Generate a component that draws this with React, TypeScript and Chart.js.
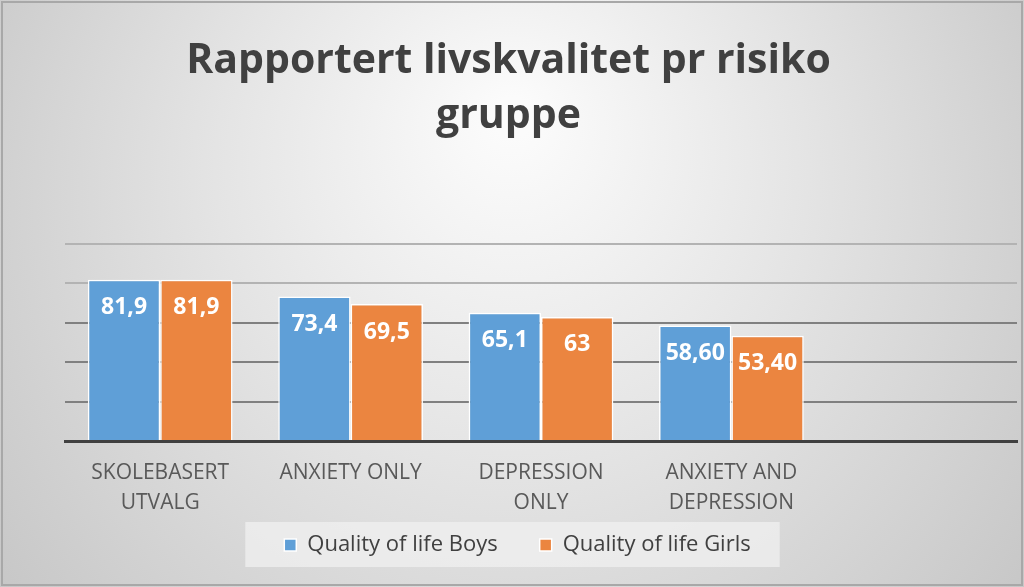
import React, { useEffect, useRef } from "react";
import { Chart, registerables } from "chart.js";

Chart.register(...registerables);

const categories: (string | string[])[] = [
  ["SKOLEBASERT", "UTVALG"],
  "ANXIETY ONLY",
  ["DEPRESSION", "ONLY"],
  ["ANXIETY AND", "DEPRESSION"],
  "",
];
const boysValues: (number | null)[] = [81.9, 73.4, 65.1, 58.6, null];
const girlsValues: (number | null)[] = [81.9, 69.5, 63, 53.4, null];
const boysLabels: string[] = ["81,9", "73,4", "65,1", "58,60", ""];
const girlsLabels: string[] = ["81,9", "69,5", "63", "53,40", ""];
const seriesNames: string[] = ["Quality of life Boys", "Quality of life Girls"];
const titleLines: string[] = ["Rapportert livskvalitet pr risiko", "gruppe"];

const FONT = "'Open Sans', 'Noto Sans', sans-serif";
const LEGEND_PAD = 42;
const LEGEND_SHIFT_Y = 21;
const LEGEND_SHIFT_X = 9;

const legendShiftPlugin = {
  id: "legendShift",
  afterLayout(chart: any) {
    const lg = chart.legend;
    if (!lg) return;
    lg.top -= LEGEND_SHIFT_Y;
    lg.bottom -= LEGEND_SHIFT_Y;
    lg.left += LEGEND_SHIFT_X;
    lg.right += LEGEND_SHIFT_X;
  },
};

const backgroundPlugin = {
  id: "bgPlugin",
  beforeDraw(chart: any) {
    const { ctx, width, height } = chart;
    ctx.save();
    const g = ctx.createRadialGradient(width * 0.5, height * 0.2, 20, width * 0.5, height * 0.4, width * 0.62);
    g.addColorStop(0, "#fbfbfb");
    g.addColorStop(0.45, "#e4e4e4");
    g.addColorStop(1, "#c6c6c6");
    ctx.fillStyle = g;
    ctx.fillRect(0, 0, width, height);
    ctx.strokeStyle = "#a8a8a8";
    ctx.lineWidth = 2;
    ctx.strokeRect(2, 2, width - 4, height - 4);
    const legend = chart.legend;
    if (legend && legend.legendHitBoxes && legend.legendHitBoxes.length) {
      const boxes = legend.legendHitBoxes;
      let l = Infinity, r = -Infinity;
      boxes.forEach((h: any) => {
        l = Math.min(l, h.left);
        r = Math.max(r, h.left + h.width);
      });
      const t = legend.top + LEGEND_PAD;
      ctx.fillStyle = "rgba(240,240,240,0.75)";
      ctx.fillRect(l - 39, t - 12, r - l + 68, 22 + 23);
    }
    ctx.restore();
  },
};

const labelPlugin = {
  id: "valueLabels",
  afterDatasetsDraw(chart: any) {
    const { ctx } = chart;
    const labelSets = [boysLabels, girlsLabels];
    ctx.save();
    ctx.fillStyle = "#ffffff";
    ctx.font = `bold 23px ${FONT}`;
    ctx.textAlign = "center";
    ctx.textBaseline = "middle";
    chart.data.datasets.forEach((ds: any, di: number) => {
      const meta = chart.getDatasetMeta(di);
      meta.data.forEach((bar: any, i: number) => {
        const txt = labelSets[di][i];
        if (!txt || ds.data[i] == null) return;
        ctx.fillText(txt, bar.x, bar.y + 28);
      });
    });
    ctx.restore();
  },
};

export default function App() {
  const ref = useRef<HTMLCanvasElement | null>(null);
  useEffect(() => {
    document.body.style.margin = "0";
    if (!ref.current) return;
    const chart = new Chart(ref.current, {
      type: "bar",
      data: {
        labels: categories,
        datasets: [
          {
            label: seriesNames[0],
            data: boysValues,
            backgroundColor: "#5f9fd7",
            borderColor: "#ffffff",
            borderWidth: 1.5,
            categoryPercentage: 0.76,
            barPercentage: 1.0,
          },
          {
            label: seriesNames[1],
            data: girlsValues,
            backgroundColor: "#eb8540",
            borderColor: "#ffffff",
            borderWidth: 1.5,
            categoryPercentage: 0.76,
            barPercentage: 1.0,
          },
        ],
      },
      options: {
        animation: false,
        responsive: false,
        maintainAspectRatio: false,
        layout: { padding: { left: 0, right: 7, top: 0, bottom: 0 } },
        plugins: {
          title: {
            display: true,
            text: titleLines,
            color: "#404040",
            font: { family: FONT, size: 41, weight: "bold", lineHeight: 55 / 41 },
            padding: { top: 34, bottom: 100 },
          },
          legend: {
            position: "bottom",
            labels: {
              color: "#404040",
              font: { family: FONT, size: 22 },
              boxWidth: 12,
              boxHeight: 12,
              padding: LEGEND_PAD,
            },
          },
          tooltip: { enabled: false },
        },
        scales: {
          x: {
            grid: { display: false },
            border: { display: true, color: "#404040", width: 3 },
            ticks: {
              color: "#595959",
              font: { family: FONT, size: 21, lineHeight: 30 / 21 },
              maxRotation: 0,
              autoSkip: false,
              padding: 9,
            },
            afterFit: (s: any) => {
              s.height = 72;
            },
          },
          y: {
            min: 0,
            max: 100,
            ticks: { display: false, stepSize: 20 },
            border: { display: false },
            grid: {
              drawTicks: false,
              lineWidth: 2,
              color: (c: any) => {
                const v = c.tick ? c.tick.value : 0;
                return v >= 80 ? "#b3b3b3" : "#808080";
              },
            },
            afterFit: (s: any) => {
              s.width = 65;
            },
          },
        },
      },
      plugins: [legendShiftPlugin, backgroundPlugin, labelPlugin],
    } as any);
    return () => chart.destroy();
  }, []);
  return (
    <div style={{ width: 1024, height: 587 }}>
      <canvas ref={ref} width={1024} height={587} style={{ display: "block" }} />
    </div>
  );
}
